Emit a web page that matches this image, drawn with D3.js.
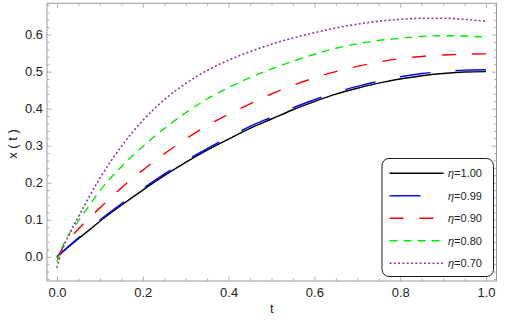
<!DOCTYPE html>
<html>
<head>
<meta charset="utf-8">
<script src="https://cdn.jsdelivr.net/npm/d3@7"></script>
<style>
  body { margin: 0; background: #fff; }
  svg { font-family: "Liberation Sans", Arial, sans-serif; }
</style>
</head>
<body>
<svg id="chart" width="509" height="322"></svg>
<script>
// values
const tValues = [0, 0.01, 0.025, 0.05, 0.075, 0.1, 0.15, 0.2, 0.25, 0.3, 0.35, 0.4, 0.45, 0.5, 0.55, 0.6, 0.65, 0.7, 0.75, 0.8, 0.85, 0.9, 0.95, 1.0];
const eta100 = [0, 0.01, 0.025, 0.049, 0.072, 0.096, 0.139, 0.18, 0.219, 0.255, 0.288, 0.318, 0.347, 0.372, 0.397, 0.419, 0.439, 0.455, 0.469, 0.48, 0.489, 0.495, 0.499, 0.5];
const eta099 = [0, 0.01, 0.026, 0.051, 0.075, 0.099, 0.143, 0.184, 0.223, 0.259, 0.292, 0.323, 0.352, 0.377, 0.402, 0.424, 0.444, 0.46, 0.474, 0.486, 0.495, 0.5, 0.504, 0.505];
const eta090 = [-0.005, 0.018, 0.043, 0.075, 0.104, 0.132, 0.186, 0.234, 0.278, 0.318, 0.354, 0.385, 0.413, 0.44, 0.463, 0.483, 0.5, 0.514, 0.526, 0.535, 0.541, 0.545, 0.547, 0.548];
const eta080 = [-0.015, 0.02, 0.056, 0.097, 0.138, 0.178, 0.243, 0.298, 0.346, 0.389, 0.426, 0.457, 0.484, 0.507, 0.528, 0.547, 0.563, 0.575, 0.584, 0.59, 0.595, 0.597, 0.596, 0.593];
const eta070 = [-0.03, 0.012, 0.052, 0.108, 0.162, 0.212, 0.298, 0.368, 0.424, 0.468, 0.503, 0.531, 0.554, 0.574, 0.591, 0.605, 0.618, 0.628, 0.636, 0.641, 0.644, 0.644, 0.641, 0.636];

const seriesNames = ["\u03B7=1.00", "\u03B7=0.99", "\u03B7=0.90", "\u03B7=0.80", "\u03B7=0.70"];
const seriesValues = [eta100, eta099, eta090, eta080, eta070];
const xTicks = [0, 0.2, 0.4, 0.6, 0.8, 1.0];
const yTicks = [0, 0.1, 0.2, 0.3, 0.4, 0.5, 0.6];

const colors = ["#000000", "#0000ff", "#ff0000", "#00ee00", "#993399"];
const dashes = [null, "31,25", "14,16", "8,6", "2,2.3"];

const svg = d3.select("#chart");

const x = d3.scaleLinear().domain([-0.0233, 1.0245]).range([47, 496.5]);
const y = d3.scaleLinear().domain([-0.0655, 0.6845]).range([281, 3.3]);
const [x0, x1] = x.range();
const [y0, y1] = y.range();

const frameColor = "#999";

svg.append("defs").append("clipPath").attr("id", "clip")
  .append("rect")
  .attr("x", x0).attr("y", y1)
  .attr("width", x1 - x0).attr("height", y0 - y1);

// minor ticks
const xMinor = d3.range(0, 21).map(i => i * 0.05).filter(v => Math.round(v * 100) % 20 !== 0);
const yMinor = d3.range(-3, 35).map(i => i * 0.02).filter(v => Math.round(v * 100) % 10 !== 0);

function styleAxis(g) {
  g.select(".domain").remove();
  g.selectAll(".tick line").attr("stroke", frameColor).attr("stroke-width", 0.8);
  g.selectAll(".tick text").attr("fill", "#222").style("font-size", "13px");
}

svg.append("g").attr("transform", `translate(0,${y0})`)
  .call(d3.axisBottom(x).tickValues(xTicks).tickSize(-4.5).tickPadding(7).tickFormat(d3.format(".1f")))
  .call(styleAxis);
svg.append("g").attr("transform", `translate(0,${y0})`)
  .call(d3.axisBottom(x).tickValues(xMinor).tickSize(-2.5).tickFormat(""))
  .call(styleAxis);
svg.append("g").attr("transform", `translate(0,${y1})`)
  .call(d3.axisTop(x).tickValues(xTicks).tickSize(-4.5).tickFormat(""))
  .call(styleAxis);
svg.append("g").attr("transform", `translate(0,${y1})`)
  .call(d3.axisTop(x).tickValues(xMinor).tickSize(-2.5).tickFormat(""))
  .call(styleAxis);

svg.append("g").attr("transform", `translate(${x0},0)`)
  .call(d3.axisLeft(y).tickValues(yTicks).tickSize(-4.5).tickPadding(4).tickFormat(d3.format(".1f")))
  .call(styleAxis);
svg.append("g").attr("transform", `translate(${x0},0)`)
  .call(d3.axisLeft(y).tickValues(yMinor).tickSize(-2.5).tickFormat(""))
  .call(styleAxis);
svg.append("g").attr("transform", `translate(${x1},0)`)
  .call(d3.axisRight(y).tickValues(yTicks).tickSize(-4.5).tickFormat(""))
  .call(styleAxis);
svg.append("g").attr("transform", `translate(${x1},0)`)
  .call(d3.axisRight(y).tickValues(yMinor).tickSize(-2.5).tickFormat(""))
  .call(styleAxis);

// frame
svg.append("rect")
  .attr("x", x0).attr("y", y1)
  .attr("width", x1 - x0).attr("height", y0 - y1)
  .attr("fill", "none").attr("stroke", frameColor).attr("stroke-width", 1);

// curves
const line = d3.line()
  .x((d, i) => x(tValues[i]))
  .y(d => y(d))
  .curve(d3.curveMonotoneX);

svg.append("g").attr("clip-path", "url(#clip)")
  .selectAll("path")
  .data(seriesValues)
  .join("path")
  .attr("d", line)
  .attr("fill", "none")
  .attr("stroke", (d, i) => colors[i])
  .attr("stroke-width", (d, i) => i === 4 ? 1.6 : 1.4)
  .attr("stroke-dasharray", (d, i) => dashes[i]);

// axis labels
svg.append("text")
  .attr("x", (x0 + x1) / 2).attr("y", 313)
  .attr("text-anchor", "middle")
  .style("font-size", "13px").attr("fill", "#222")
  .text("t");

svg.append("text")
  .attr("transform", "translate(17,144) rotate(-90)")
  .attr("text-anchor", "middle")
  .style("font-size", "13px").attr("fill", "#222")
  .text("x ( t )");

// legend
const legend = svg.append("g");
legend.append("rect")
  .attr("x", 382).attr("y", 158.5)
  .attr("width", 111.5).attr("height", 118)
  .attr("rx", 7).attr("ry", 7)
  .attr("fill", "#fff").attr("stroke", "#000").attr("stroke-width", 0.9);

const items = legend.selectAll("g.item")
  .data(seriesNames)
  .join("g")
  .attr("class", "item")
  .attr("transform", (d, i) => `translate(0,${173.3 + i * 22.5})`);

items.append("line")
  .attr("x1", 389.5).attr("x2", 443.5)
  .attr("stroke", (d, i) => colors[i])
  .attr("stroke-width", (d, i) => i === 4 ? 1.6 : 1.4)
  .attr("stroke-dasharray", (d, i) => dashes[i]);

const labels = items.append("text")
  .attr("x", 448).attr("y", 4)
  .style("font-size", "11px").attr("fill", "#222");
labels.append("tspan").style("font-style", "italic").text(d => d.slice(0, 1));
labels.append("tspan").text(d => d.slice(1));
</script>
</body>
</html>
